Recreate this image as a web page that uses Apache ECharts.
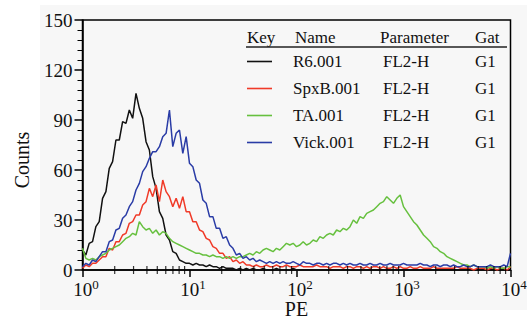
<!DOCTYPE html>
<html>
<head>
<meta charset="utf-8">
<script src="https://cdn.jsdelivr.net/npm/echarts@6/dist/echarts.min.js"></script>
<style>
html,body{margin:0;padding:0;background:#fff;}
#c{width:527px;height:320px;}
</style>
</head>
<body>
<div id="c"></div>
<script>
// Histogram channels: 32 channels per decade, from 10^0 to 10^4
const channelsPerDecade = 32;

// Counts per channel
const countsR6 = [
  12,9,16,17,26,29,43,47,61,65,
  78,78,89,88,96,91,106,97,91,77,
  72,56,49,35,31,21,18,11,10,6,
  5,4,4,3,4,3,3,2,3,2,
  2,1,2,1,1,1,0,1,0,1,
  0,1,0,0,1,0,0,0,1,0,
  0,0,0,1,0,0,0,0,0,0,
  0,0,0,0,0,0,0,0,0,0,
  0,0,0,0,0,0,0,0,0,0,
  0,0,0,0,0,0,0,0,0,0,
  0,0,0,0,0,0,0,0,0,0,
  0,0,0,0,0,0,0,0,0,0,
  0,0,0,0,0,0,0,0,0
];
const countsSpxB = [
  1,3,2,4,4,6,8,8,13,12,
  17,17,21,22,28,29,33,33,39,41,
  49,44,51,41,54,47,44,38,43,37,
  44,35,35,29,29,24,23,19,18,14,
  13,10,10,7,8,5,6,4,5,3,
  3,2,3,2,2,3,2,2,3,2,
  2,3,2,2,2,3,2,2,2,2,
  3,2,2,2,1,2,2,2,1,2,
  2,1,2,2,1,2,1,2,2,1,
  2,1,1,2,1,2,1,1,2,1,
  1,2,1,1,1,2,1,1,1,1,
  1,1,2,1,1,1,1,0,1,1,
  1,0,1,1,0,1,1,0,2
];
const countsTA = [
  13,7,6,7,6,8,9,10,12,13,
  14,15,17,19,20,22,21,29,26,24,
  25,22,24,21,23,22,19,17,16,15,
  14,13,12,11,10,10,9,9,8,9,
  8,8,7,8,7,8,7,8,8,9,
  10,9,11,10,12,13,12,11,13,12,
  14,16,15,16,14,15,17,15,16,18,
  17,20,19,21,22,21,24,23,25,24,
  26,30,28,32,31,34,35,36,38,40,
  41,44,42,40,43,45,38,35,32,29,
  27,24,21,19,17,14,13,11,10,8,
  7,6,5,4,3,3,2,3,2,2,
  2,1,2,1,2,1,1,2,2
];
const countsVick = [
  2,4,3,6,5,8,11,11,17,18,
  24,25,31,33,38,41,48,52,59,62,
  67,71,71,74,80,82,96,74,82,84,
  70,80,64,62,54,52,42,40,32,32,
  25,25,19,20,15,13,9,10,7,8,
  6,7,5,6,5,4,5,4,5,4,
  5,4,4,5,4,3,5,4,4,3,
  4,4,3,4,3,4,4,3,4,3,
  4,3,3,4,3,3,4,3,3,4,
  3,3,4,3,3,3,4,3,3,3,
  3,4,3,3,2,3,3,2,3,3,
  2,3,2,2,3,2,2,3,2,2,
  2,2,3,2,2,2,3,2,10
];

const seriesNames = ['R6.001','SpxB.001','TA.001','Vick.001'];
const seriesParams = ['FL2-H','FL2-H','FL2-H','FL2-H'];
const seriesGates = ['G1','G1','G1','G1'];
const seriesColors = ['#111111','#f03a28','#66c03e','#2a3ca6'];
const allCounts = [countsR6, countsSpxB, countsTA, countsVick];

const yTicks = [0,30,60,90,120,150];
const xMinorTickValues = [2,3,4,5,6,7,8,9,20,30,40,50,60,70,80,90,200,300,400,500,600,700,800,900,2000,3000,4000,5000,6000,7000,8000,9000];

const FONT = '"Liberation Serif","DejaVu Serif",serif';

function toPairs(arr){
  return arr.map((v,i)=>[Math.pow(10, i/channelsPerDecade), v]);
}

const chart = echarts.init(document.getElementById('c'), null, {renderer:'svg'});

const lineSeries = allCounts.map((arr,k)=>({
  name: seriesNames[k],
  type:'line',
  data: toPairs(arr),
  showSymbol:false,
  symbol:'none',
  smooth:false,
  lineStyle:{color:seriesColors[k], width:1.5},
  itemStyle:{color:seriesColors[k]},
  z: 3 + k,
  animation:false,
  silent:true
}));

// draw order: black, red, blue, green
const ordered = [lineSeries[0], lineSeries[1], lineSeries[3], lineSeries[2]];

const minorTicks = {
  type:'scatter',
  data: xMinorTickValues.map(v=>[v,0]),
  symbol:'rect',
  symbolSize:[1.2,8],
  itemStyle:{color:'#000'},
  clip:false,
  silent:true,
  z:10,
  animation:false
};

// Legend table
const legendX = {key:247, name:293, param:383, gate:475};
const headerY = 37;
const rowY0 = 61.5, rowStep = 27;
const graphics = [
  {type:'rect', shape:{x:40,y:5,width:487,height:305}, style:{fill:'#f7f7f7'}, z:-100, silent:true},
  {type:'text', x:legendX.key, y:headerY, style:{text:'Key', font:'17px '+FONT, fill:'#111', textVerticalAlign:'middle'}},
  {type:'text', x:legendX.name+2, y:headerY, style:{text:'Name', font:'17px '+FONT, fill:'#111', textVerticalAlign:'middle'}},
  {type:'text', x:legendX.param-3, y:headerY, style:{text:'Parameter', font:'17px '+FONT, fill:'#111', textVerticalAlign:'middle'}},
  {type:'text', x:legendX.gate, y:headerY, style:{text:'Gat', font:'17px '+FONT, fill:'#111', textVerticalAlign:'middle'}},
  {type:'line', shape:{x1:246, y1:47, x2:507, y2:47}, style:{stroke:'#222', lineWidth:1.6}}
];
seriesNames.forEach((n,k)=>{
  const y = rowY0 + k*rowStep;
  graphics.push({type:'line', shape:{x1:247,y1:y,x2:272,y2:y}, style:{stroke:seriesColors[k], lineWidth:1.6}});
  graphics.push({type:'text', x:legendX.name, y:y, style:{text:n, font:'17px '+FONT, fill:'#111', textVerticalAlign:'middle'}});
  graphics.push({type:'text', x:legendX.param, y:y, style:{text:seriesParams[k], font:'17px '+FONT, fill:'#111', textVerticalAlign:'middle'}});
  graphics.push({type:'text', x:legendX.gate, y:y, style:{text:seriesGates[k], font:'17px '+FONT, fill:'#111', textVerticalAlign:'middle'}});
});

chart.setOption({
  backgroundColor:'#ffffff',
  animation:false,
  textStyle:{fontFamily:FONT},
  grid:{left:82.5, right:16.5, top:20, bottom:50, show:true, borderColor:'#000', borderWidth:1.5, backgroundColor:'transparent', containLabel:false, outerBoundsMode:'none'},
  xAxis:{
    type:'log', logBase:10, min:1, max:10000,
    axisLine:{show:true, lineStyle:{color:'#000', width:1.5}},
    axisTick:{show:true, length:7, lineStyle:{color:'#000', width:1.5}},
    splitLine:{show:false},
    minorTick:{show:false},
    axisLabel:{
      margin:8,
      color:'#111',
      formatter:function(v){
        const e = Math.round(Math.log10(v));
        return '{p|}{b|10}{s|' + e + '}';
      },
      rich:{
        p:{width:7, lineHeight:21},
        b:{fontSize:19, fontFamily:FONT, color:'#111', lineHeight:21, verticalAlign:'bottom'},
        s:{fontSize:13, fontFamily:FONT, color:'#111', verticalAlign:'top', lineHeight:6}
      }
    },
    name:'PE', nameLocation:'middle', nameGap:29, nameMoveOverlap:false,
    nameTextStyle:{fontFamily:FONT, fontSize:20, lineHeight:20, color:'#111'}
  },
  yAxis:{
    type:'value', min:0, max:150, interval:30,
    axisLine:{show:true, lineStyle:{color:'#000', width:1.5}},
    axisTick:{show:true, length:8, lineStyle:{color:'#000', width:1.5}},
    minorTick:{show:true, splitNumber:5, length:5, lineStyle:{color:'#000', width:1}},
    splitLine:{show:false},
    axisLabel:{margin:10, fontSize:19, fontFamily:FONT, color:'#111',
      formatter:function(v){ return yTicks.indexOf(v)>=0 ? String(v) : ''; }},
    name:'Counts', nameLocation:'middle', nameGap:51, nameRotate:90, nameMoveOverlap:false,
    nameTextStyle:{fontFamily:FONT, fontSize:20, color:'#111', padding:[0,30,0,0]}
  },
  series: ordered.concat([minorTicks]),
  graphic: graphics
});
</script>
</body>
</html>
